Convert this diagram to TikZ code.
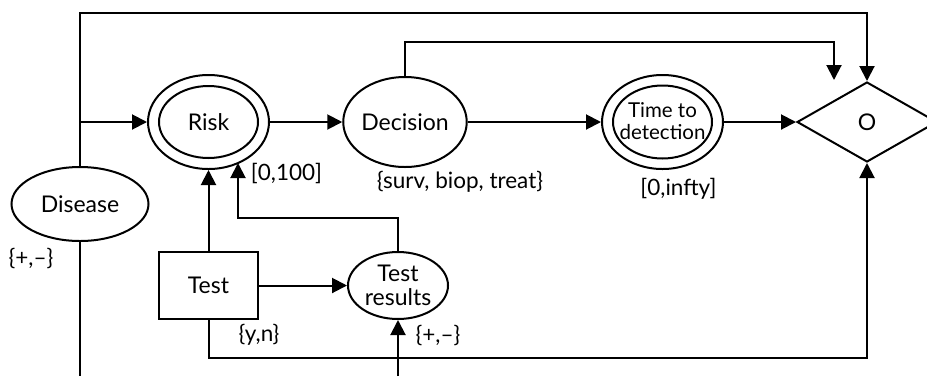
\documentclass[tikz,border=0pt]{standalone}
\usepackage{fontspec}
\setmainfont{Lato}
\usetikzlibrary{arrows.meta,shapes.geometric}
\begin{document}
\begin{tikzpicture}[x=1pt,y=-1pt,
  lw/.style={line width=2pt},
  arr/.style={lw,-{Triangle[length=15pt,width=15pt]}},
  ell/.style={ellipse,draw,lw,inner sep=0pt,font=\fontsize{23}{24}\selectfont},
  lbl/.style={inner sep=0pt,font=\fontsize{22.5}{24}\selectfont}]
\useasboundingbox (0,0) rectangle (927,376);
% nodes
\node[ell,minimum width=137,minimum height=74] (disease) at (80,204) {Disease};
\node[ell,minimum width=121,minimum height=94] (risk) at (208.5,122) {};
\draw[lw] (risk.center) ellipse [x radius=49.5, y radius=36];
\node[font=\fontsize{23}{24}\selectfont] (risktxt) at (208.5,122) {Risk};
\node[ell,minimum width=115,minimum height=90] (decision) at (405,122) {Decision};
\node[ell,minimum width=121,minimum height=94] (ttd) at (662.5,122) {};
\draw[lw] (ttd.center) ellipse [x radius=49.5, y radius=36.5];
\node[align=center,inner sep=0pt,font=\fontsize{20.5}{21.5}\selectfont] (ttdtxt) at (662.5,121) {Time to\\detection};
\node[diamond,draw,lw,aspect=1.75,minimum width=140,minimum height=80,inner sep=0pt,font=\fontsize{23}{24}\selectfont] (O) at (867,122) {O};
\node[draw,lw,minimum width=99,minimum height=67,inner sep=0pt,font=\fontsize{23}{24}\selectfont] (test) at (208.5,285.5) {Test};
\node[ell,align=center,minimum width=100,minimum height=67,font=\fontsize{23}{24}\selectfont] (tr) at (398,285.5) {Test\\results};
% labels
\node[lbl] (l1) at (286.5,173) {[0,100]};
\node[lbl] (l2) at (460,182) {\{surv, biop, treat\}};
\node[lbl] (l3) at (678.5,189) {[0,infty]};
\node[lbl] (l4) at (31,258) {\{+,–\}};
\node[lbl] (l5) at (259,335) {\{y,n\}};
\node[lbl] (l6) at (438,335) {\{+,–\}};
% coordinates
\coordinate (top) at (0,13);
\coordinate (bot) at (0,376);
\coordinate (ybot) at (0,358);
\coordinate (dcorner) at (834,42);
\coordinate (dtip) at (834,80);
\coordinate (rk) at (238,218);
\coordinate (rtip) at (238,163);
% connectors
\draw[arr] (disease.north) -- (disease.north |- top) -| (O.north);
\draw[arr] (disease.north |- risk.west) -- (risk.west);
\draw[lw] (disease.south) -- (disease.south |- bot);
\draw[arr] (risk.east) -- (decision.west);
\draw[arr] (decision.east) -- (ttd.west);
\draw[arr] (ttd.east) -- (O.west);
\draw[arr] (decision.north) |- (dcorner) -- (dtip);
\draw[arr] (test.north) -- (risk.south);
\draw[arr] (tr.north) |- (rk) -- (rtip);
\draw[arr] (test.east) -- (tr.west);
\draw[arr] (test.south) -- (test.south |- ybot) -| (O.south);
\draw[arr] (tr.south |- bot) -- (tr.south);
\end{tikzpicture}
\end{document}
